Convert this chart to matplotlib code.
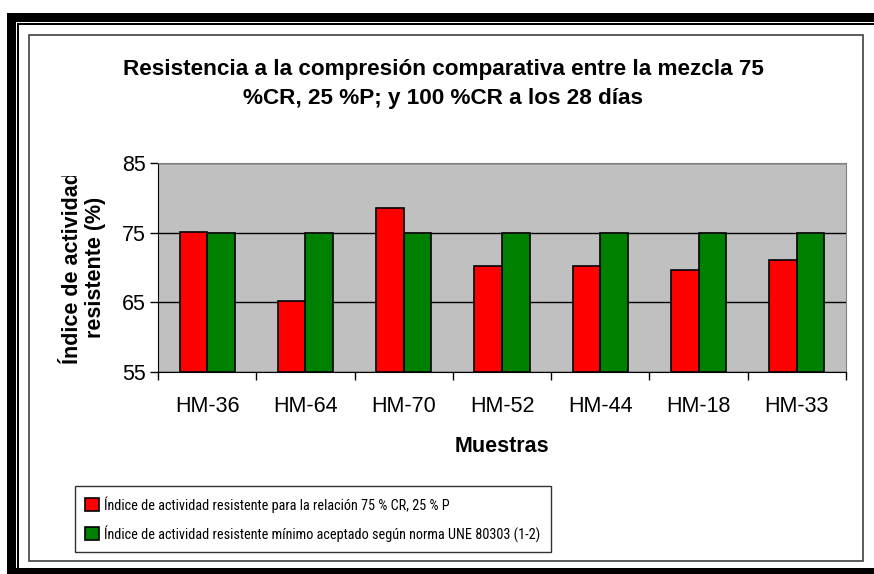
import numpy as np
import matplotlib
matplotlib.use("Agg")
import matplotlib.pyplot as plt
from matplotlib.patches import Rectangle
from matplotlib import font_manager

muestras = ["HM-36", "HM-64", "HM-70", "HM-52", "HM-44", "HM-18", "HM-33"]
indice_75cr = [75.1, 65.2, 78.5, 70.2, 70.2, 69.6, 71.1]
minimo_une = [75, 75, 75, 75, 75, 75, 75]
yticks = [55, 65, 75, 85]

fonts = font_manager.fontManager.ttflist
names = {f.name for f in fonts}
narrow = None
for cand in ["Liberation Sans Narrow", "Arial Narrow", "Roboto Condensed", "Open Sans Condensed"]:
    if cand in names:
        narrow = cand
        break
if narrow is None:
    others = sorted(n for n in names if "narrow" in n.lower() or "condensed" in n.lower())
    narrow = others[0] if others else "Liberation Sans"
plt.rcParams["font.family"] = ["Liberation Sans", "DejaVu Sans"]

W, H = 874, 574
fig = plt.figure(figsize=(W / 100, H / 100), dpi=100)

def fr(x0, y0, x1, y1, **kw):
    # rectangle in pixel coords (top-left origin)
    fig.patches.append(Rectangle((x0 / W, 1 - y1 / H), (x1 - x0) / W, (y1 - y0) / H,
                                 transform=fig.transFigure, figure=fig, zorder=-5, **kw))

# outer picture frame
fr(7, 13, 874, 22, facecolor="black", edgecolor="none")
fr(7, 13, 16, 574, facecolor="black", edgecolor="none")
fr(7, 568, 874, 574, facecolor="black", edgecolor="none")
fr(17, 23.5, 874, 25, facecolor="black", edgecolor="none")
fr(17, 23.5, 18.5, 568, facecolor="black", edgecolor="none")
# chart area box
fr(29, 35, 863, 561, facecolor="white", edgecolor="#404040", linewidth=1.2)

ax = fig.add_axes([158 / W, 1 - 372 / H, (846 - 158) / W, (372 - 163) / H])
ax.set_facecolor("#C0C0C0")

x = np.arange(len(muestras))
bw = 0.28
ax.bar(x - bw / 2, np.array(indice_75cr) - 55, bw, bottom=55, color="#FF0000",
       edgecolor="black", linewidth=1.2, zorder=3,
       label="Índice de actividad resistente para la relación 75 % CR, 25 % P")
ax.bar(x + bw / 2, np.array(minimo_une) - 55, bw, bottom=55, color="#008000",
       edgecolor="black", linewidth=1.2, zorder=3,
       label="Índice de actividad resistente mínimo aceptado según norma UNE 80303 (1-2)")

ax.set_ylim(55, 85)
ax.set_xlim(-0.5, len(muestras) - 0.5)
ax.set_yticks(yticks)
ax.set_yticklabels([str(v) for v in yticks], fontsize=15.5)
ax.yaxis.grid(True, color="black", linewidth=1)
ax.set_axisbelow(True)
ax.set_xticks(np.arange(len(muestras) + 1) - 0.5)
ax.set_xticklabels([])
ax.set_xticks(x, minor=True)
ax.set_xticklabels(muestras, minor=True, fontsize=15.5)
ax.tick_params(axis="x", which="minor", length=0, pad=17)
ax.tick_params(axis="x", which="major", length=6, width=1)
ax.tick_params(axis="y", length=6, width=1, pad=3)
for s in ["top", "right"]:
    ax.spines[s].set_color("#808080")
for s in ["left", "bottom"]:
    ax.spines[s].set_color("black")

ax.set_xlabel("Muestras", fontsize=15.5, fontweight="bold", labelpad=14)
lbl = ax.set_ylabel("Índice de actividad\nresistente (%)", fontsize=15.5, fontweight="bold",
                    labelpad=11, linespacing=1.15)
clip = Rectangle((0, 0), 1, 1 - 176 / H, transform=fig.transFigure)
lbl.set_clip_path(clip)
lbl.set_clip_on(True)

fig.text(443 / W, 1 - 84 / H,
         "Resistencia a la compresión comparativa entre la mezcla 75\n%CR, 25 %P; y 100 %CR a los 28 días",
         ha="center", va="center", fontsize=16.2, fontweight="bold", linespacing=1.5)

leg = fig.legend(loc="upper left", bbox_to_anchor=(75 / W, 1 - 486 / H), ncol=1,
                 prop={"family": narrow, "size": 10.3}, frameon=True, fancybox=False,
                 edgecolor="black", handlelength=1.0, handleheight=1.0, handletextpad=0.35,
                 borderpad=0.7, labelspacing=0.85, borderaxespad=0)
leg.get_frame().set_linewidth(1)

fig.savefig("out.png", dpi=100, facecolor="white")
